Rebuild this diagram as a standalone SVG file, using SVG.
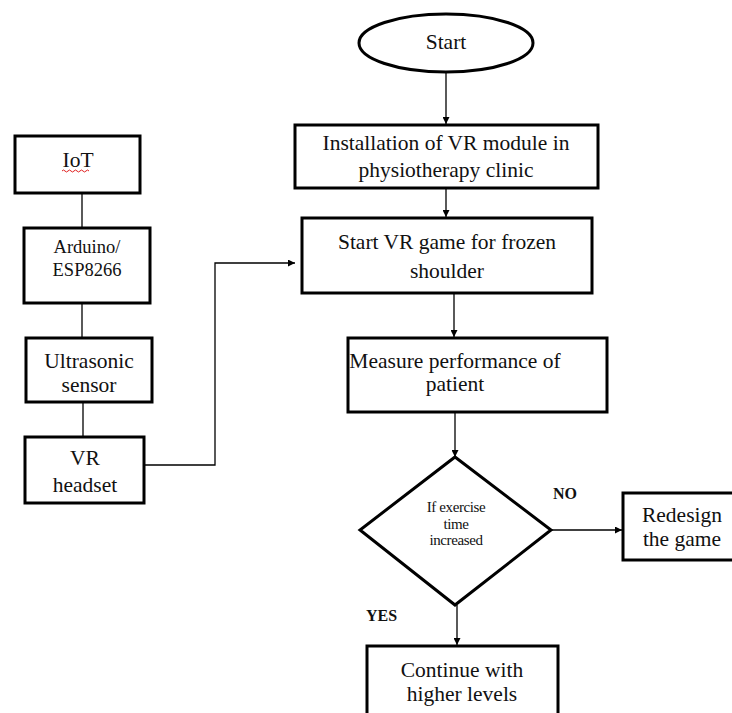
<svg xmlns="http://www.w3.org/2000/svg" width="732" height="713" viewBox="0 0 732 713">
<defs>
<marker id="ah" viewBox="0 0 10 10" refX="10" refY="5" markerWidth="7" markerHeight="7" markerUnits="userSpaceOnUse" orient="auto">
<path d="M0,0 L10,5 L0,10 z" fill="#000"/>
</marker>
<style>
.box{fill:#fff;stroke:#000;stroke-width:3}
text{font-family:'Liberation Serif',serif;fill:#111}
.t{font-size:21.5px;text-anchor:middle}
.s{font-size:18.5px}
.xs{font-size:15px;letter-spacing:-0.4px}
.b{font-size:16px;font-weight:bold}
.c{fill:none;stroke:#000;stroke-width:1.3}
</style>
</defs>
<rect width="732" height="713" fill="#fff"/>
<g id="connectors">
<line class="c" x1="82" y1="193" x2="82" y2="228"/>
<line class="c" x1="82" y1="303" x2="82" y2="338"/>
<line class="c" x1="83" y1="402" x2="83" y2="437"/>
<polyline class="c" points="140,465 215,465 215,263 295,263" marker-end="url(#ah)"/>
<line class="c" x1="446" y1="72" x2="446" y2="124" marker-end="url(#ah)"/>
<line class="c" x1="446" y1="188" x2="446" y2="217" marker-end="url(#ah)"/>
<line class="c" x1="454" y1="294" x2="454" y2="337" marker-end="url(#ah)"/>
<line class="c" x1="455" y1="412" x2="455" y2="457" marker-end="url(#ah)"/>
<line class="c" x1="551" y1="530" x2="622" y2="530" marker-end="url(#ah)"/>
<line class="c" x1="457" y1="605" x2="457" y2="645" marker-end="url(#ah)"/>
</g>
<g id="iot">
<rect class="box" x="15" y="136" width="125" height="57"/>
<text class="t" x="78" y="167">IoT</text>
<path d="M62,171 q1.5,-2 3,0 t3,0 t3,0 t3,0 t3,0 t3,0 t3,0 t3,0 t3,0" fill="none" stroke="#e02020" stroke-width="1"/>
</g>
<g id="arduino">
<rect class="box" x="24" y="228" width="126" height="75"/>
<text class="t s" x="87" y="253">Arduino/</text>
<text class="t s" x="87" y="276">ESP8266</text>
</g>
<g id="ultrasonic">
<rect class="box" x="26" y="338" width="126" height="64"/>
<text class="t" x="89" y="368">Ultrasonic</text>
<text class="t" x="89" y="392">sensor</text>
</g>
<g id="vr-headset">
<rect class="box" x="25" y="437" width="119" height="66"/>
<text class="t" x="85" y="465">VR</text>
<text class="t" x="85" y="492">headset</text>
</g>
<g id="start">
<ellipse cx="446" cy="43" rx="87" ry="29" fill="#fff" stroke="#000" stroke-width="3"/>
<text class="t" x="446" y="49">Start</text>
</g>
<g id="installation">
<rect class="box" x="295" y="125" width="303" height="63"/>
<text class="t" x="446" y="150">Installation of VR module in</text>
<text class="t" x="446" y="177">physiotherapy clinic</text>
</g>
<g id="start-game">
<rect class="box" x="302" y="218" width="290" height="75"/>
<text class="t" x="447" y="249">Start VR game for frozen</text>
<text class="t" x="447" y="278">shoulder</text>
</g>
<g id="measure">
<rect class="box" x="348" y="338" width="259" height="74"/>
<text class="t" x="455" y="368">Measure performance of</text>
<text class="t" x="455" y="391">patient</text>
</g>
<g id="decision">
<polygon points="455,457 551,530 455,605 360,530" fill="#fff" stroke="#000" stroke-width="3" stroke-linejoin="miter"/>
<text class="t xs" x="456" y="512">If exercise</text>
<text class="t xs" x="456" y="529">time</text>
<text class="t xs" x="456" y="545">increased</text>
</g>
<g id="redesign">
<rect class="box" x="623" y="493" width="112" height="67"/>
<text class="t" x="682" y="522">Redesign</text>
<text class="t" x="682" y="546">the game</text>
</g>
<g id="continue">
<rect class="box" x="367" y="646" width="191" height="70"/>
<text class="t" x="462" y="677">Continue with</text>
<text class="t" x="462" y="701">higher levels</text>
</g>
<g id="labels">
<text class="b" x="553" y="499">NO</text>
<text class="b" x="366" y="621">YES</text>
</g>
</svg>
